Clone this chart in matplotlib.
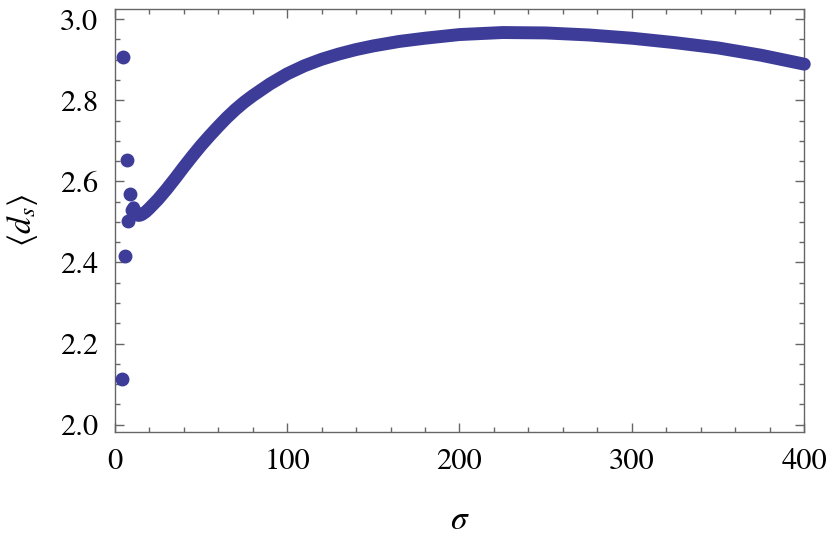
import matplotlib
matplotlib.use("Agg")
import matplotlib.pyplot as plt
from matplotlib.ticker import MultipleLocator

plt.rcParams['font.family'] = ['STIXGeneral', 'DejaVu Serif']
plt.rcParams['mathtext.fontset'] = 'stix'

# puntos sueltos al principio (sigma pequeño)
sigma_ini = [4, 5, 6, 7, 8, 9, 10]
ds_ini = [2.113, 2.907, 2.417, 2.652, 2.503, 2.568, 2.530]

# tramo continuo
sigma_curva = [11, 12, 13, 14, 15, 16, 18, 20, 25, 30, 35, 40, 45, 50, 55, 60, 65, 70, 75, 80,
               90, 100, 110, 120, 130, 140, 150, 165, 180, 200, 225, 250, 275, 300,
               325, 350, 375, 400]
ds_curva = [2.535, 2.522, 2.517, 2.516, 2.517, 2.519, 2.525, 2.533, 2.555, 2.580, 2.607,
            2.635, 2.662, 2.688, 2.712, 2.735, 2.757, 2.777, 2.795, 2.811,
            2.840, 2.865, 2.885, 2.901, 2.914, 2.925, 2.934, 2.945, 2.953, 2.962,
            2.967, 2.966, 2.961, 2.953, 2.942, 2.929, 2.911, 2.889]

color = '#3d3d99'
gris = '#666666'

fig = plt.figure(figsize=(8.3, 5.46), dpi=100)
ax = fig.add_axes([0.1382, 0.2088, 0.8308, 0.7747])

ax.plot(sigma_curva, ds_curva, '-', color=color, lw=9.3,
        solid_capstyle='round', solid_joinstyle='round', clip_on=False, zorder=3)
ax.plot(sigma_ini, ds_ini, 'o', color=color, ms=9, clip_on=False, zorder=3)

ax.set_xlim(0, 400)
ax.set_ylim(1.982, 3.025)
ax.xaxis.set_major_locator(MultipleLocator(100))
ax.xaxis.set_minor_locator(MultipleLocator(20))
ax.yaxis.set_major_locator(MultipleLocator(0.2))
ax.yaxis.set_minor_locator(MultipleLocator(0.05))
ax.yaxis.set_major_formatter(plt.FormatStrFormatter('%.1f'))

ax.tick_params(which='both', direction='in', top=True, right=True, color=gris,
               labelsize=22, width=1)
ax.tick_params(which='major', length=6.2, pad=12)
ax.tick_params(which='minor', length=3.8)
for s in ax.spines.values():
    s.set_color(gris)
    s.set_linewidth(1)

ax.set_xlabel(r'$\sigma$', fontsize=24, labelpad=22)
ax.set_ylabel(r'$\langle d_s \rangle$', fontsize=24, labelpad=14)

fig.savefig('out.png', dpi=100)
